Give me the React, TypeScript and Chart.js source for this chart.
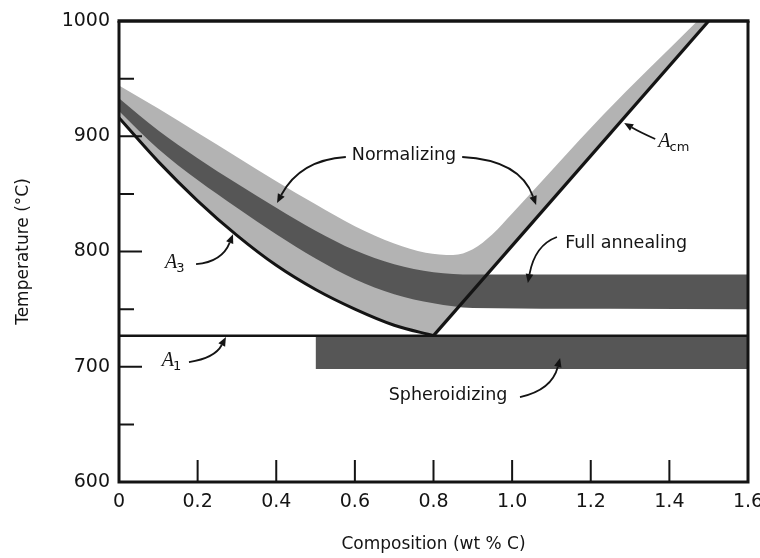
import React, { useEffect, useRef } from 'react';
import { Chart, registerables } from 'chart.js';

Chart.register(...registerables);

// ---- axis ticks ----
const X_TICK_LABELS = ['0', '0.2', '0.4', '0.6', '0.8', '1.0', '1.2', '1.4', '1.6'];
const Y_TICK_LABELS = ['600', '700', '800', '900', '1000'];
const Y_MINOR_TICKS = [650, 750, 850, 950];

// ---- phase boundaries (composition wt% C, temperature °C) ----
const A3_COMP = [0, 0.1, 0.2, 0.3, 0.4, 0.5, 0.6, 0.7, 0.8];
const A3_TEMP = [916, 878, 844, 814, 788, 767, 750, 736, 727];
const ACM_COMP = [0.8, 1.5];
const ACM_TEMP = [727, 1000];
const A1_COMP = [0, 1.6];
const A1_TEMP = [727, 727];

// ---- heat-treatment ranges ----
const NORM_COMP = [0, 0.1, 0.2, 0.3, 0.4, 0.5, 0.6, 0.7, 0.78, 0.85, 0.9, 0.95, 1.0, 1.23, 1.48, 1.55];
const NORM_TOP = [944, 924, 903, 882, 861, 841, 822, 807, 799, 797, 802, 815, 833, 918, 1003, 1027];
const FULL_COMP = [0, 0.1, 0.2, 0.3, 0.4, 0.5, 0.6, 0.7, 0.8, 0.9, 1.6];
const FULL_TOP = [933, 905, 881, 859, 838, 818, 801, 789, 782, 780, 780];
const FULL_BOT = [922, 889, 862, 838, 815, 794, 776, 763, 755, 751, 750];
const SPHER_COMP = [0.5, 1.6];
const SPHER_TOP = [726, 726];
const SPHER_BOT = [698, 698];

// ---- annotations (data units) ----
const TEXT_LABELS = [
  { text: 'Normalizing', comp: 0.725, temp: 883.7 },
  { text: 'Full annealing', comp: 1.29, temp: 807.4 },
  { text: 'Spheroidizing', comp: 0.837, temp: 675.5 },
];
const PHASE_LABELS = [
  { main: 'A', sub: 'cm', comp: 1.372, temp: 890.7 },
  { main: 'A', sub: '3', comp: 0.117, temp: 785.7 },
  { main: 'A', sub: '1', comp: 0.109, temp: 700.6 },
];
const ARROWS = [
  { from: [0.577, 882.0], ctrl: [0.46, 879.4], to: [0.402, 842.1] },
  { from: [0.873, 882.0], ctrl: [1.02, 879.4], to: [1.061, 840.3] },
  { from: [1.364, 897.6], ctrl: [1.325, 903.5], to: [1.285, 911.5] },
  { from: [0.196, 789.1], ctrl: [0.262, 790.9], to: [0.29, 815] },
  { from: [0.178, 704.1], ctrl: [0.244, 707.6], to: [0.272, 725.8] },
  { from: [1.114, 812.6], ctrl: [1.058, 805.6], to: [1.04, 772.7] },
  { from: [1.02, 673.7], ctrl: [1.101, 679.8], to: [1.122, 707.6] },
];

const LIGHT = '#b3b3b3';
const DARK = '#565656';
const INK = '#141414';

const pts = (xs: number[], ys: number[]) => xs.map((x, i) => ({ x, y: ys[i] }));

const LOWER_COMP = [...A3_COMP, ...ACM_COMP.slice(1)];
const LOWER_TEMP = [...A3_TEMP, ...ACM_TEMP.slice(1)];

const hidden = { borderWidth: 0, borderColor: 'transparent', pointRadius: 0, pointHitRadius: 0 };

const decorPlugin = {
  id: 'decor',
  afterDatasetsDraw(chart: any) {
    const { ctx, chartArea: a, scales } = chart;
    const xs = scales.x;
    const ys = scales.y;
    const px = (v: number) => xs.getPixelForValue(v);
    const py = (v: number) => ys.getPixelForValue(v);
    ctx.save();
    ctx.strokeStyle = INK;
    ctx.fillStyle = INK;

    // inward ticks
    ctx.lineWidth = 2;
    ctx.beginPath();
    Y_TICK_LABELS.map(Number).slice(1, -1).forEach((v) => {
      const y = py(v);
      ctx.moveTo(a.left, y);
      ctx.lineTo(a.left + 23, y);
    });
    Y_MINOR_TICKS.forEach((v) => {
      const y = py(v);
      ctx.moveTo(a.left, y);
      ctx.lineTo(a.left + 15, y);
    });
    X_TICK_LABELS.map(Number).slice(1, -1).forEach((v) => {
      const x = px(v);
      ctx.moveTo(x, a.bottom);
      ctx.lineTo(x, a.bottom - 22);
    });
    ctx.stroke();

    // frame
    ctx.lineWidth = 3;
    ctx.beginPath();
    ctx.moveTo(a.left, a.top);
    ctx.lineTo(a.left, a.bottom);
    ctx.lineTo(a.right, a.bottom);
    ctx.lineTo(a.right, a.top);
    ctx.stroke();
    ctx.lineWidth = 3.5;
    ctx.beginPath();
    ctx.moveTo(a.left - 1.5, a.top);
    ctx.lineTo(a.right + 1.5, a.top);
    ctx.stroke();

    // arrows
    ctx.lineWidth = 1.8;
    ARROWS.forEach(({ from, ctrl, to }) => {
      const x0 = px(from[0]), y0 = py(from[1]);
      const cx = px(ctrl[0]), cy = py(ctrl[1]);
      const x1 = px(to[0]), y1 = py(to[1]);
      const ang = Math.atan2(y1 - cy, x1 - cx);
      const L = 9, W = 3.8;
      const bx = x1 - L * Math.cos(ang), by = y1 - L * Math.sin(ang);
      ctx.beginPath();
      ctx.moveTo(x0, y0);
      ctx.quadraticCurveTo(cx, cy, bx, by);
      ctx.stroke();
      ctx.beginPath();
      ctx.moveTo(x1, y1);
      ctx.lineTo(bx + W * Math.sin(ang), by - W * Math.cos(ang));
      ctx.lineTo(bx - W * Math.sin(ang), by + W * Math.cos(ang));
      ctx.closePath();
      ctx.fill();
    });

    // text labels
    ctx.font = '17.5px "DejaVu Sans"';
    ctx.textAlign = 'center';
    ctx.textBaseline = 'middle';
    TEXT_LABELS.forEach(({ text, comp, temp }) => {
      ctx.fillText(text, px(comp), py(temp));
    });

    // phase-boundary labels
    ctx.textAlign = 'left';
    ctx.textBaseline = 'alphabetic';
    PHASE_LABELS.forEach(({ main, sub, comp, temp }) => {
      const x = px(comp), y = py(temp);
      ctx.font = 'italic 20px "Liberation Serif"';
      ctx.fillText(main, x, y);
      const w = ctx.measureText(main).width;
      ctx.font = '13px "DejaVu Sans"';
      ctx.fillText(sub, x + w - 1, y + 4);
    });
    ctx.restore();
  },
};

export default function App() {
  const ref = useRef<HTMLCanvasElement>(null);
  useEffect(() => {
    document.body.style.margin = '0';
    const tickFont = { family: '"DejaVu Sans"', size: 19 };
    const chart = new Chart(ref.current as HTMLCanvasElement, {
      type: 'line',
      data: {
        datasets: [
          { label: 'A1', data: pts(A1_COMP, A1_TEMP), borderColor: INK, borderWidth: 2.5, pointRadius: 0, fill: false },
          { label: 'Acm', data: pts(ACM_COMP, ACM_TEMP), borderColor: INK, borderWidth: 3.2, pointRadius: 0, fill: false },
          { label: 'A3', data: pts(A3_COMP, A3_TEMP), borderColor: INK, borderWidth: 3, pointRadius: 0, fill: false, cubicInterpolationMode: 'monotone' },
          { label: 'Spheroidizing', data: pts(SPHER_COMP, SPHER_TOP), ...hidden, fill: 4, backgroundColor: DARK },
          { label: 'Spheroidizing low', data: pts(SPHER_COMP, SPHER_BOT), ...hidden, fill: false },
          { label: 'Full annealing', data: pts(FULL_COMP, FULL_TOP), ...hidden, fill: 6, backgroundColor: DARK, cubicInterpolationMode: 'monotone' },
          { label: 'Full annealing low', data: pts(FULL_COMP, FULL_BOT), ...hidden, fill: false, cubicInterpolationMode: 'monotone' },
          { label: 'Normalizing', data: pts(NORM_COMP, NORM_TOP), ...hidden, fill: 8, backgroundColor: LIGHT, cubicInterpolationMode: 'monotone' },
          { label: 'Normalizing low', data: pts(LOWER_COMP, LOWER_TEMP), ...hidden, fill: false },
        ] as any,
      },
      options: {
        responsive: false,
        animation: false,
        events: [],
        layout: { padding: { left: 0, top: 21, right: 12, bottom: 0 } },
        plugins: {
          legend: { display: false },
          tooltip: { enabled: false },
          filler: { drawTime: 'beforeDatasetsDraw' },
        } as any,
        scales: {
          x: {
            type: 'linear',
            min: 0,
            max: 1.6,
            grid: { display: false, drawTicks: false },
            border: { display: false },
            afterBuildTicks: (s: any) => {
              s.ticks = X_TICK_LABELS.map((v) => ({ value: Number(v) }));
            },
            afterFit: (s: any) => {
              s.height = 76;
              s.paddingRight = 0;
              s.paddingLeft = 0;
            },
            ticks: {
              autoSkip: false,
              maxRotation: 0,
              padding: 9,
              color: INK,
              font: tickFont,
              callback: (_v: any, i: number) => X_TICK_LABELS[i],
            },
            title: {
              display: true,
              text: 'Composition (wt % C)',
              color: INK,
              font: { family: '"DejaVu Sans"', size: 17 },
              padding: { top: 0, bottom: 3 },
            },
          },
          y: {
            type: 'linear',
            min: 600,
            max: 1000,
            grid: { display: false, drawTicks: false },
            border: { display: false },
            afterBuildTicks: (s: any) => {
              s.ticks = Y_TICK_LABELS.map((v) => ({ value: Number(v) }));
            },
            afterFit: (s: any) => {
              s.width = 119;
            },
            ticks: {
              autoSkip: false,
              padding: 9,
              color: INK,
              font: tickFont,
              callback: (_v: any, i: number) => Y_TICK_LABELS[i],
            },
            title: {
              display: true,
              text: 'Temperature (°C)',
              color: INK,
              font: { family: '"DejaVu Sans"', size: 17 },
              padding: { top: 13, bottom: 0 },
            },
          },
        },
      } as any,
      plugins: [decorPlugin],
    });
    return () => chart.destroy();
  }, []);
  return (
    <div style={{ width: 760, height: 558, background: '#fff' }}>
      <canvas ref={ref} width={760} height={558} style={{ display: 'block' }} />
    </div>
  );
}
